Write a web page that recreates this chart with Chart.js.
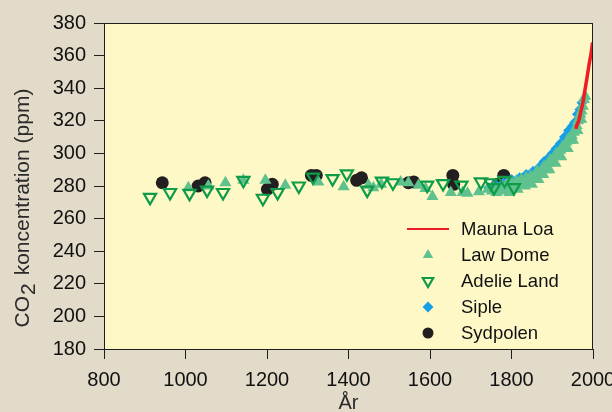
<!DOCTYPE html>
<html>
<head>
<meta charset="utf-8">
<script src="https://cdn.jsdelivr.net/npm/chart.js@4.4.1/dist/chart.umd.min.js"></script>
<style>
  html, body { margin: 0; padding: 0; background: #e2dbc9; }
  canvas { display: block; }
</style>
</head>
<body>
<canvas id="co2Chart" width="612" height="412"></canvas>
<script>
// Mauna Loa, direct measurements
const maunaLoaYears = [1958, 1960, 1965, 1970, 1975, 1980, 1985, 1990, 1995, 1999];
const maunaLoaPpm   = [315, 317, 320, 325.5, 331, 338.5, 346, 354, 361, 368];

// Law Dome ice core
const lawDomeYears = [1007, 1056, 1098, 1142, 1196, 1245, 1326, 1388, 1449, 1461, 1480, 1528,
  1547, 1572, 1589, 1606, 1651, 1680, 1692, 1720, 1742,
  1752, 1758, 1763, 1770, 1776, 1781, 1788, 1793, 1800, 1806, 1812, 1818, 1824, 1830, 1836,
  1841, 1847, 1852, 1858, 1863, 1869, 1874, 1880, 1885, 1890, 1895, 1900, 1905, 1910, 1915,
  1920, 1925, 1930, 1935, 1940, 1944, 1948, 1953, 1957, 1960, 1963, 1966, 1969, 1972, 1975,
  1978, 1981,
  1795, 1815, 1833, 1850, 1866, 1878, 1893, 1908, 1922, 1938, 1951, 1962, 1971];
const lawDomePpm = [279, 280, 282, 283.5, 283.5, 280.5, 282.5, 279.5, 280.5, 279, 281, 282.5,
  282, 280.5, 278.5, 273.5, 276, 276, 275.5, 276.5, 278,
  277, 279, 276, 278, 280, 277, 281, 279, 282, 280, 283, 281, 284, 282, 285,
  283, 286, 284, 287, 289, 287, 290, 292, 290, 294, 296, 295, 298, 300, 299,
  302, 304, 303, 307, 309, 308, 311, 313, 315, 317, 320, 321, 324, 326, 329,
  333, 335,
  276, 278, 280, 281, 284, 287, 290, 294, 298, 303, 308, 314, 321];

// Adelie Land ice core
const adelieYears = [913, 962, 1010, 1053, 1092, 1142, 1190, 1226, 1278, 1313, 1361, 1396,
  1446, 1482, 1509, 1593, 1632, 1677, 1725, 1749, 1757, 1783, 1806];
const adeliePpm   = [273, 276, 275.5, 277.5, 276, 283.5, 272.5, 276, 280, 285.5, 284.5, 287.5,
  277.5, 283, 282, 280.5, 281.5, 280.5, 282.5, 282, 279, 283.5, 279];

// Siple ice core
const sipleYears = [1744, 1760, 1770, 1781, 1790, 1800, 1810, 1820, 1828, 1836, 1845, 1853,
  1860, 1870, 1880, 1890, 1900, 1910, 1920, 1930, 1940, 1950, 1955, 1962, 1968, 1973];
const siplePpm   = [279, 281, 279, 282, 281, 284, 283, 285, 284, 287, 286, 289,
  289, 292, 295, 297, 300, 303, 306, 310, 314, 317, 319, 324, 327, 331];

// Sydpolen (South Pole) ice core
const sydpolenYears = [943, 1031, 1048, 1201, 1213, 1309, 1321, 1420, 1432, 1547, 1560, 1656, 1658, 1766, 1781];
const sydpolenPpm   = [282, 280, 282, 278, 281, 286.5, 286.5, 283.5, 285, 282, 282.5, 286.5, 281, 281, 286.5];

const xTicks = [800, 1000, 1200, 1400, 1600, 1800, 2000];
const yTicks = [180, 200, 220, 240, 260, 280, 300, 320, 340, 360, 380];

const toPoints = (xs, ys) => xs.map((x, i) => ({ x, y: ys[i] }));

const FONT = '"Liberation Sans", Arial, Helvetica, sans-serif';
const INK  = '#1e1e1e';

// yellow plot area, frame, y title with subscript and the inset legend
const plotDecor = {
  id: 'plotDecor',
  beforeDatasetsDraw(chart) {
    const { ctx, chartArea: a } = chart;
    ctx.save();
    ctx.fillStyle = '#fef8c6';
    ctx.fillRect(a.left, a.top, a.right - a.left, a.bottom - a.top);
    ctx.restore();
  },
  afterDraw(chart) {
    const { ctx, chartArea: a } = chart;
    ctx.save();
    ctx.strokeStyle = INK;
    ctx.lineWidth = 1;
    ctx.strokeRect(a.left + 0.5, a.top + 0.5, a.right - a.left - 1, a.bottom - a.top);

    // y axis title: CO2 with lowered 2
    ctx.translate(23, 208);
    ctx.rotate(-Math.PI / 2);
    ctx.fillStyle = '#2a2a2a';
    ctx.textBaseline = 'middle';
    ctx.font = '21px ' + FONT;
    const parts = ['CO', '2', ' koncentration (ppm)'];
    const w0 = ctx.measureText(parts[0]).width;
    const w1 = ctx.measureText(parts[1]).width;
    const w2 = ctx.measureText(parts[2]).width;
    let x = -(w0 + w1 + w2 + 3) / 2;
    ctx.fillText(parts[0], x, 0);
    x += w0 + 1;
    ctx.fillText(parts[1], x, 6);
    x += w1 + 2;
    ctx.fillText(parts[2], x, 0);
    ctx.restore();

    // legend
    const order = ['Mauna Loa', 'Law Dome', 'Adelie Land', 'Siple', 'Sydpolen'];
    const mx = a.right - 165, tx = a.right - 132;
    let y = a.bottom - 120;
    ctx.save();
    ctx.font = '18.5px ' + FONT;
    ctx.textBaseline = 'middle';
    order.forEach(label => {
      const ds = chart.data.datasets.find(d => d.label === label);
      if (ds.showLine) {
        ctx.strokeStyle = ds.borderColor;
        ctx.lineWidth = 2;
        ctx.beginPath();
        ctx.moveTo(mx - 21, y);
        ctx.lineTo(mx + 21, y);
        ctx.stroke();
      } else {
        ctx.fillStyle = ds.backgroundColor;
        ctx.strokeStyle = ds.borderColor;
        ctx.lineWidth = ds.borderWidth;
        Chart.helpers.drawPoint(ctx, {
          pointStyle: ds.pointStyle,
          radius: ds.legendRadius,
          rotation: ds.rotation || 0,
          borderWidth: ds.borderWidth
        }, mx, y);
      }
      ctx.fillStyle = '#111';
      ctx.fillText(label, tx, y + 1);
      y += 26;
    });
    ctx.restore();
  }
};

new Chart(document.getElementById('co2Chart'), {
  type: 'scatter',
  data: {
    datasets: [
      {
        label: 'Mauna Loa',
        data: toPoints(maunaLoaYears, maunaLoaPpm),
        showLine: true,
        borderColor: '#ee1c25',
        backgroundColor: '#ee1c25',
        borderWidth: 3.5,
        pointRadius: 0,
        tension: 0.3,
        order: 0
      },
      {
        label: 'Adelie Land',
        data: toPoints(adelieYears, adeliePpm),
        pointStyle: 'triangle',
        rotation: 180,
        pointRadius: 7,
        legendRadius: 6,
        borderWidth: 2.2,
        borderColor: '#0e9c48',
        backgroundColor: 'rgba(0,0,0,0)',
        order: 1
      },
      {
        label: 'Law Dome',
        data: toPoints(lawDomeYears, lawDomePpm),
        pointStyle: 'triangle',
        pointRadius: 7,
        legendRadius: 6,
        borderWidth: 0,
        borderColor: '#5fc28e',
        backgroundColor: '#5fc28e',
        order: 2
      },
      {
        label: 'Siple',
        data: toPoints(sipleYears, siplePpm),
        pointStyle: 'rectRot',
        pointRadius: 5.5,
        legendRadius: 5.5,
        borderWidth: 0,
        borderColor: '#16a0e8',
        backgroundColor: '#16a0e8',
        order: 3
      },
      {
        label: 'Sydpolen',
        data: toPoints(sydpolenYears, sydpolenPpm),
        pointStyle: 'circle',
        pointRadius: 6.5,
        legendRadius: 5.5,
        borderWidth: 0,
        borderColor: '#231f20',
        backgroundColor: '#231f20',
        order: 4
      }
    ]
  },
  options: {
    responsive: false,
    animation: false,
    layout: { padding: { top: 23, right: 19, left: 0, bottom: 0 } },
    plugins: { legend: { display: false }, tooltip: { enabled: false } },
    scales: {
      x: {
        type: 'linear',
        min: xTicks[0],
        max: xTicks[xTicks.length - 1],
        afterBuildTicks: s => { s.ticks = xTicks.map(v => ({ value: v })); },
        afterFit: s => { s.height = 63; s.paddingLeft = 0; s.paddingRight = 0; },
        ticks: {
          color: '#111', font: { family: FONT, size: 20 }, padding: 9, maxRotation: 0,
          callback: v => String(v)
        },
        grid: { drawOnChartArea: false, tickLength: 10, color: INK },
        border: { display: false },
        title: {
          display: true, text: 'År', color: '#2a2a2a',
          font: { family: FONT, size: 20 }, padding: { top: 0, bottom: -3 }
        }
      },
      y: {
        min: yTicks[0],
        max: yTicks[yTicks.length - 1],
        afterBuildTicks: s => { s.ticks = yTicks.map(v => ({ value: v })); },
        afterFit: s => { s.width = 104; s.paddingTop = 0; s.paddingBottom = 0; },
        ticks: { color: '#111', font: { family: FONT, size: 20 }, padding: 8, callback: v => String(v) },
        grid: { drawOnChartArea: false, tickLength: 10, color: INK },
        border: { display: false }
      }
    }
  },
  plugins: [plotDecor]
});
</script>
</body>
</html>
